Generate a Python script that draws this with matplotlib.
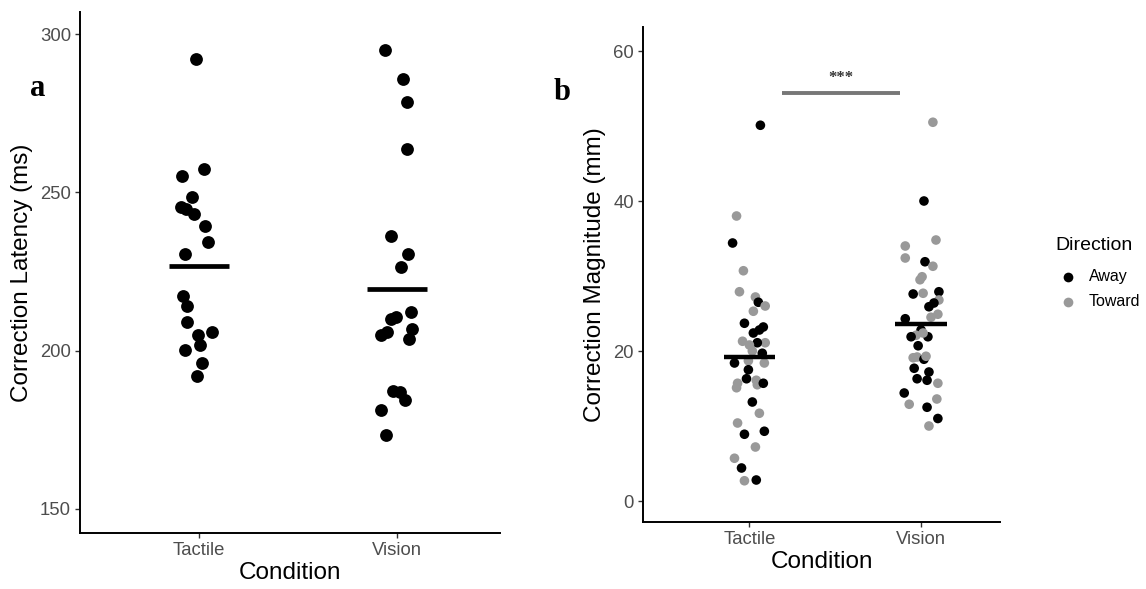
import matplotlib
matplotlib.use("Agg")
import matplotlib.pyplot as plt
from matplotlib.lines import Line2D
import numpy as np

# ---------------- data ----------------
categories = ["Tactile", "Vision"]

# Panel a: correction latency (ms)
lat_tactile = [292.1, 257.5, 255.3, 248.7, 245.3, 244.7, 243.1, 239.3, 234.3, 230.5,
               217.3, 214.2, 209.1, 205.0, 206.0, 201.9, 200.3, 196.2, 192.1]
lat_tactile_jit = [-0.015, 0.025, -0.086, -0.035, -0.091, -0.066, -0.025, 0.03, 0.045, -0.071,
                   -0.081, -0.061, -0.061, -0.005, 0.066, 0.005, -0.071, 0.015, -0.01]
lat_vision = [295.0, 285.8, 278.6, 263.8, 236.2, 230.5, 226.4, 212.3, 210.7, 210.1,
              206.0, 205.0, 206.9, 203.8, 187.4, 186.8, 184.3, 181.4, 173.3]
lat_vision_jit = [-0.061, 0.03, 0.05, 0.05, -0.03, 0.056, 0.02, 0.071, -0.005, -0.03,
                  -0.05, -0.081, 0.076, 0.061, -0.02, 0.015, 0.04, -0.081, -0.056]
lat_means = [226.7, 219.5]

# Panel b: correction magnitude (mm), direction A=Away, T=Toward
mag_tactile = [50.1, 38.0, 34.4, 30.7, 27.9, 27.2, 26.5, 26.0, 25.3, 23.7,
               23.2, 22.8, 22.4, 21.3, 21.1, 21.1, 20.8, 20.0, 19.7, 18.4,
               18.7, 18.4, 17.5, 16.3, 15.7, 15.1, 16.1, 15.5, 15.7, 13.2,
               11.7, 10.4, 8.9, 9.3, 7.2, 5.7, 4.4, 2.7, 2.8]
mag_tactile_dir = list("ATATTTATTAAAATTATTAATTAATTTTAATTAATTATA")
mag_tactile_jit = [0.064, -0.075, -0.098, -0.035, -0.058, 0.035, 0.052, 0.092, 0.023, -0.029,
                   0.081, 0.058, 0.023, -0.04, 0.092, 0.046, 0.0, 0.017, 0.075, -0.087,
                   -0.006, 0.087, -0.006, -0.017, -0.069, -0.075, 0.04, 0.046, 0.081, 0.017,
                   0.058, -0.069, -0.029, 0.087, 0.035, -0.087, -0.046, -0.029, 0.04]
mag_vision = [50.5, 40.0, 34.8, 34.0, 32.4, 31.9, 31.3, 29.9, 29.5, 27.6,
              27.7, 27.9, 26.8, 26.4, 25.9, 24.9, 24.5, 24.3, 22.8, 22.1,
              21.9, 21.9, 22.4, 20.7, 19.1, 19.2, 18.9, 19.3, 17.7, 17.2,
              16.3, 16.1, 15.7, 14.4, 12.9, 13.6, 12.5, 11.0, 10.0]
mag_vision_dir = list("TATTTATTTATATAATTAATAATATTATAAAATATTAAT")
mag_vision_jit = [0.069, 0.017, 0.087, -0.092, -0.092, 0.023, 0.069, 0.006, -0.006, -0.046,
                  0.012, 0.104, 0.104, 0.075, 0.046, 0.098, 0.058, -0.092, 0.0, -0.029,
                  -0.058, 0.04, 0.012, -0.017, -0.046, -0.023, 0.017, 0.029, -0.04, 0.046,
                  -0.023, 0.035, 0.098, -0.098, -0.069, 0.092, 0.035, 0.098, 0.046]
mag_means = [19.2, 23.6]
direction_labels = ["Away", "Toward"]
sig_text = "***"
sig_y = 54.4
sig_x = [1.19, 1.88]

# ---------------- style ----------------
FONT = "Liberation Sans"
plt.rcParams["font.family"] = [FONT, "DejaVu Sans"]
TICK_COL = "#4d4d4d"
dir_colors = {"A": "#000000", "T": "#999999"}

fig = plt.figure(figsize=(11.46, 5.89), dpi=100)
W, H = 1146, 589

def px_axes(l, t, r, b):
    return fig.add_axes([l / W, 1 - b / H, (r - l) / W, (b - t) / H])

def style(ax, xlim):
    for s in ["top", "right"]:
        ax.spines[s].set_visible(False)
    for s in ["left", "bottom"]:
        ax.spines[s].set_linewidth(1.4)
        ax.spines[s].set_color("black")
    ax.tick_params(axis="both", colors="#333333", labelcolor=TICK_COL,
                   labelsize=13.3, length=3.5, width=1.0, pad=3)
    ax.set_xticks([1, 2])
    ax.set_xticklabels(categories)
    ax.set_xlim(*xlim)

# ---------------- panel a ----------------
axa = px_axes(80, 12, 500, 533)
style(axa, (0.4, 2.52))
for i, (vals, jit) in enumerate([(lat_tactile, lat_tactile_jit), (lat_vision, lat_vision_jit)]):
    x = (i + 1) + np.array(jit)
    axa.scatter(x, vals, s=85, color="black", linewidths=0, zorder=3)
    axa.hlines(lat_means[i], i + 1 - 0.15, i + 1 + 0.15, color="black", lw=3.4, zorder=4)
axa.set_ylim(142.4, 307.0)
axa.set_yticks([150, 200, 250, 300])
axa.set_xlabel("Condition", fontsize=17.5, labelpad=2)
axa.set_ylabel("Correction Latency (ms)", fontsize=17.5, labelpad=5)
fig.text(38 / W, 1 - 88 / H, "a", fontsize=22, fontweight="bold",
         family="Liberation Serif", ha="center", va="center")

# ---------------- panel b ----------------
axb = px_axes(643, 27, 1000, 522)
style(axb, (0.38, 2.46))
for i, (vals, dirs, jit) in enumerate([(mag_tactile, mag_tactile_dir, mag_tactile_jit),
                                       (mag_vision, mag_vision_dir, mag_vision_jit)]):
    x = (i + 1) + np.array(jit)
    cols = [dir_colors[d] for d in dirs]
    axb.scatter(x, vals, s=48, c=cols, linewidths=0, zorder=3)
    axb.hlines(mag_means[i], i + 1 - 0.15, i + 1 + 0.15, color="black", lw=3.2, zorder=4)
axb.set_ylim(-2.8, 63.2)
axb.set_yticks([0, 20, 40, 60])
axb.set_xlabel("Condition", fontsize=17.5, labelpad=2)
axb.set_ylabel("Correction Magnitude (mm)", fontsize=17.5, labelpad=5)
axb.hlines(sig_y, sig_x[0], sig_x[1], color="#777777", lw=2.8, zorder=2)
axb.text(np.mean(sig_x), sig_y + 0.9, sig_text, ha="center", va="bottom", fontsize=12,
         fontweight="bold", family="Liberation Serif", color="#333333")
fig.text(562 / W, 1 - 92 / H, "b", fontsize=22, fontweight="bold",
         family="Liberation Serif", ha="center", va="center")

# ---------------- legend (drawn in figure pixels) ----------------
fig.text(1055 / W, 1 - 245 / H, "Direction", fontsize=14, ha="left", va="center",
         color="black")
for k, (key, lab) in enumerate(zip(["A", "T"], direction_labels)):
    yy = 1 - (277 + 25 * k) / H
    fig.add_artist(Line2D([1068 / W], [yy], marker="o", linestyle="", markersize=7,
                          markeredgewidth=0, color=dir_colors[key],
                          transform=fig.transFigure))
    fig.text(1089 / W, yy, lab, fontsize=11.5, ha="left", va="center", color="black")

fig.savefig("out.png", dpi=100)
